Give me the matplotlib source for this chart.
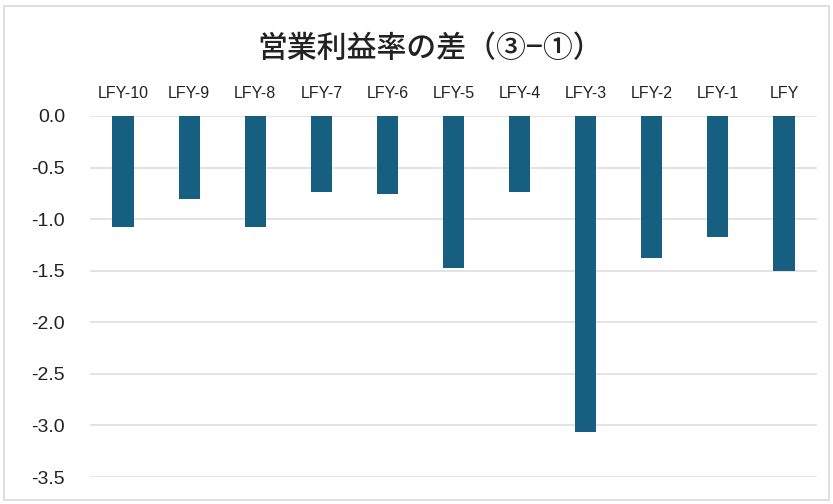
import matplotlib
matplotlib.use("Agg")
import matplotlib.pyplot as plt
from matplotlib.patches import Rectangle

categories = ["LFY-10", "LFY-9", "LFY-8", "LFY-7", "LFY-6", "LFY-5",
              "LFY-4", "LFY-3", "LFY-2", "LFY-1", "LFY"]
values = [-1.08, -0.80, -1.08, -0.74, -0.76, -1.47, -0.74, -3.06, -1.38, -1.17, -1.50]
y_ticks = [0.0, -0.5, -1.0, -1.5, -2.0, -2.5, -3.0, -3.5]
title = "営業利益率の差（③−①）"

plt.rcParams['font.family'] = ['Liberation Sans', 'Noto Sans CJK JP', 'DejaVu Sans']

W, H = 833, 504
fig = plt.figure(figsize=(W / 100, H / 100), dpi=100)
fig.patch.set_facecolor("white")

# outer chart frame
fig.patches.append(Rectangle((4 / W, 4 / H), 825 / W, 494 / H, transform=fig.transFigure,
                             fill=False, edgecolor="#d9d9d9", linewidth=1.2))

left, right = 90, 817
top, bottom = 116, 477
ax = fig.add_axes([left / W, 1 - bottom / H, (right - left) / W, (bottom - top) / H])

x = list(range(len(categories)))
ax.bar(x, values, width=0.32, color="#175f80", zorder=3)

ax.set_xlim(-0.5, len(categories) - 0.5)
ax.set_ylim(-3.5, 0.0)
ax.set_yticks(y_ticks)
ax.set_yticklabels([f"{v:.1f}" for v in y_ticks], fontsize=14)
ax.yaxis.grid(True, color="#e3e3e3", linewidth=1.4, zorder=0)
ax.set_axisbelow(True)

ax.xaxis.tick_top()
ax.set_xticks(x)
ax.set_xticklabels(categories, fontsize=11.5, color="#222222")
ax.tick_params(axis="x", length=0, pad=11)
ax.tick_params(axis="y", length=0, pad=18, colors="#222222")

for s in ax.spines.values():
    s.set_visible(False)

fig.text(430 / W, 1 - 48 / H, title, ha="center", va="center", fontsize=21.5,
         fontweight="medium", family=['Noto Sans CJK JP', 'DejaVu Sans'], color="#222222")

fig.savefig("out.png", dpi=100, facecolor="white")
